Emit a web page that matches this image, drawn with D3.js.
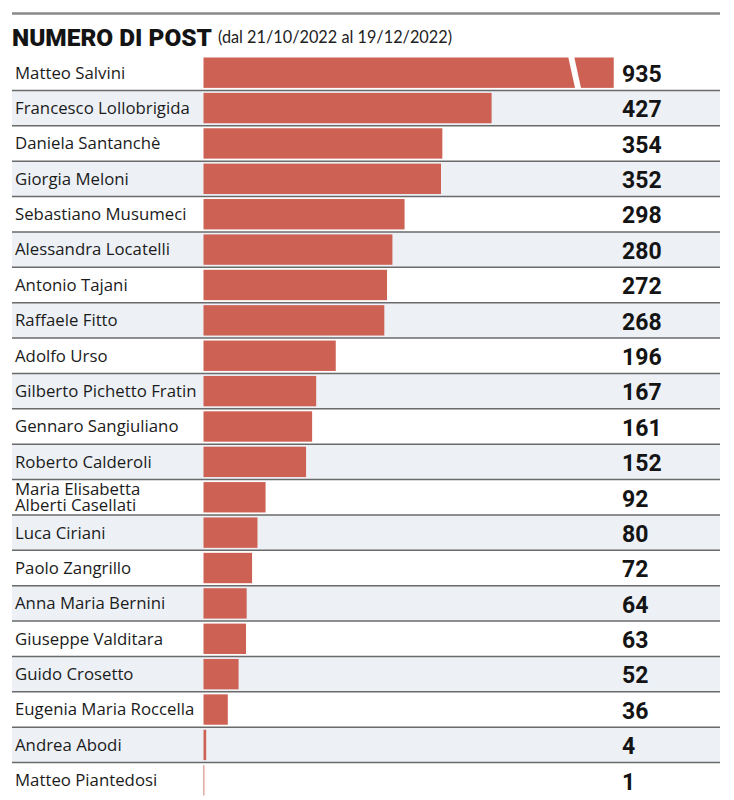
<!DOCTYPE html>
<html>
<head>
<meta charset="utf-8">
<script src="https://cdn.jsdelivr.net/npm/d3@7"></script>
<style>
  html, body { margin: 0; padding: 0; background: #fff; }
  svg { display: block; }
</style>
</head>
<body>
<svg id="chart" width="734" height="800"></svg>
<script>
// ---- data ----
const names = [
  "Matteo Salvini", "Francesco Lollobrigida", "Daniela Santanchè", "Giorgia Meloni",
  "Sebastiano Musumeci", "Alessandra Locatelli", "Antonio Tajani", "Raffaele Fitto",
  "Adolfo Urso", "Gilberto Pichetto Fratin", "Gennaro Sangiuliano", "Roberto Calderoli",
  "Maria Elisabetta\nAlberti Casellati", "Luca Ciriani", "Paolo Zangrillo", "Anna Maria Bernini",
  "Giuseppe Valditara", "Guido Crosetto", "Eugenia Maria Roccella", "Andrea Abodi",
  "Matteo Piantedosi"
];
const posts = [935, 427, 354, 352, 298, 280, 272, 268, 196, 167, 161, 152, 92, 80, 72, 64, 63, 52, 36, 4, 1];
const title = "NUMERO DI POST";
const subtitle = "(dal 21/10/2022 al 19/12/2022)";
const breakCap = 608;     // values above this are drawn as a broken bar
const breakAt = 545;      // position of the break mark (in data units)

// ---- layout ----
const svg = d3.select("#chart");
const left = 12, right = 720;
const barX0 = 203.5;

const x = d3.scaleLinear().domain([0, 352]).range([barX0, 441]);
const y = d3.scaleBand().domain(d3.range(names.length)).range([55, 798]).padding(0);
const step = y.step();

const textCol = "#1b1b1b";
const barCol = "#cd6254";
const shade = "#edf1f6";
const sepCol = "#6a6a6a";

// top rule
svg.append("line").attr("x1", left).attr("x2", right).attr("y1", 13.5).attr("y2", 13.5)
  .attr("stroke", "#8a8a8a").attr("stroke-width", 2.5);

// title
svg.append("text").attr("x", left).attr("y", 46)
  .attr("font-family", "Roboto, 'Open Sans', sans-serif").attr("font-weight", 900)
  .attr("font-size", 23).attr("fill", "#141414")
  .attr("textLength", 200).attr("lengthAdjust", "spacingAndGlyphs")
  .text(title);
svg.append("text").attr("x", 218).attr("y", 43)
  .attr("font-family", "Lato, 'Open Sans', sans-serif").attr("font-weight", 400)
  .attr("font-size", 18).attr("fill", "#222")
  .attr("textLength", 234).attr("lengthAdjust", "spacingAndGlyphs")
  .text(subtitle);

// row shading
svg.append("g").selectAll("rect").data(d3.range(names.length).filter(i => i % 2 === 1))
  .join("rect")
  .attr("x", left).attr("width", right - left)
  .attr("y", i => y(i)).attr("height", step)
  .attr("fill", shade);

// separators
svg.append("g").selectAll("line").data(d3.range(names.length - 1))
  .join("line")
  .attr("x1", left).attr("x2", right)
  .attr("y1", i => y(i) + step).attr("y2", i => y(i) + step)
  .attr("stroke", sepCol).attr("stroke-width", 1.5);

// bars
svg.append("g").selectAll("rect").data(posts)
  .join("rect")
  .attr("x", x(0))
  .attr("y", (d, i) => y(i) + 2.5)
  .attr("height", step - 5)
  .attr("width", d => Math.max(0.8, x(Math.min(d, breakCap)) - x(0)))
  .attr("fill", barCol);

// break mark on capped bars
posts.forEach((d, i) => {
  if (d > breakCap) {
    const bx = x(breakAt), top = y(i) + 2, bot = y(i) + step - 1.5;
    svg.append("polygon")
      .attr("points", [[bx - 3, top], [bx + 3, top], [bx + 10, bot], [bx + 4, bot]].map(p => p.join(",")).join(" "))
      .attr("fill", "#fff");
  }
});

// names
const lab = svg.append("g").attr("font-family", "'Open Sans', Lato, sans-serif")
  .attr("font-size", 16.8).attr("fill", textCol);
names.forEach((n, i) => {
  const lines = n.split("\n");
  const cy = y(i) + step / 2;
  const lh = 15.5;
  const t = lab.append("text").attr("x", 15);
  lines.forEach((ln, k) => {
    t.append("tspan").attr("x", 15)
      .attr("y", cy + (k - (lines.length - 1) / 2) * lh)
      .attr("dy", "0.35em")
      .text(ln);
  });
});

// values
svg.append("g").selectAll("text").data(posts)
  .join("text")
  .attr("x", 622)
  .attr("y", (d, i) => y(i) + step / 2 + 1)
  .attr("dy", "0.36em")
  .attr("font-family", "Roboto, 'Open Sans', sans-serif")
  .attr("font-weight", 700).attr("font-size", 23).attr("fill", "#141414")
  .text(d => d);
</script>
</body>
</html>
